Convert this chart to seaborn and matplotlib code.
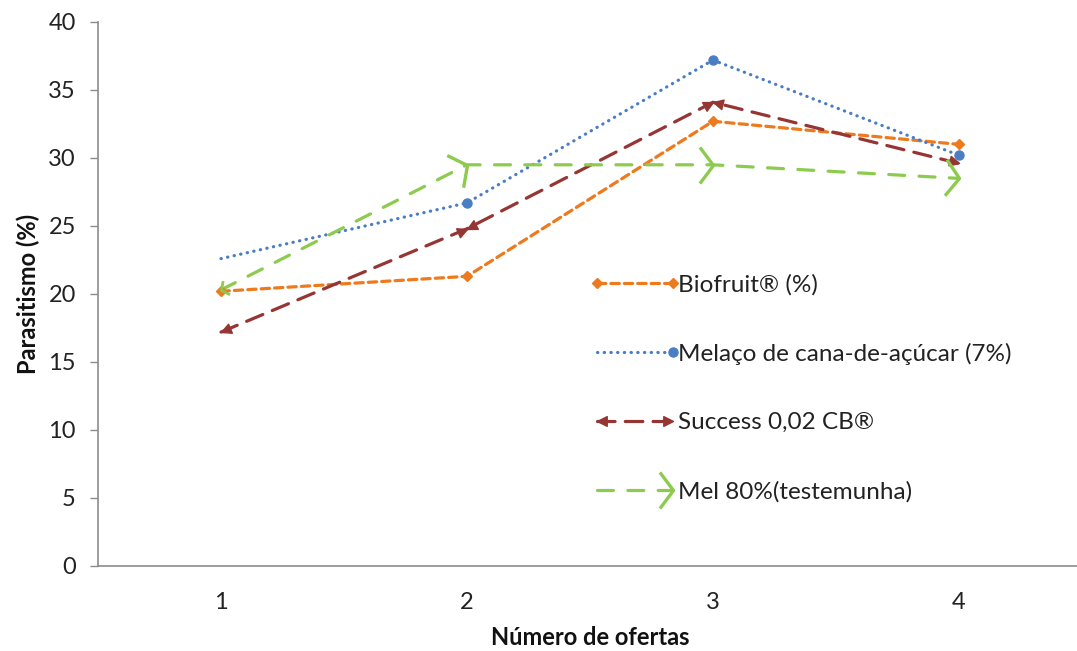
import numpy as np
import pandas as pd
import seaborn as sns
import matplotlib
matplotlib.use("Agg")
import matplotlib.pyplot as plt
from matplotlib.path import Path
from matplotlib.markers import MarkerStyle
from matplotlib.transforms import Affine2D
from matplotlib.lines import Line2D
from matplotlib.legend_handler import HandlerBase

# ---- data ----
ofertas = [1, 2, 3, 4]
biofruit = [20.2, 21.3, 32.7, 31.0]
melaco = [22.6, 26.7, 37.2, 30.2]
success = [17.2, 24.8, 34.1, 29.6]
mel = [20.3, 29.5, 29.5, 28.5]
series_names = ["Biofruit® (%)", "Melaço de cana-de-açúcar (7%)",
                "Success 0,02 CB®", "Mel 80%(testemunha)"]
yticks = [0, 5, 10, 15, 20, 25, 30, 35, 40]

colors = {series_names[0]: "#EE7A1E", series_names[1]: "#4A7EC4",
          series_names[2]: "#963634", series_names[3]: "#8DCB4E"}
dashes = {series_names[0]: (2.6, 1.6), series_names[1]: (0.1, 2.0),
          series_names[2]: (5.5, 3.2), series_names[3]: (5.0, 4.5)}

df = pd.DataFrame({
    "x": ofertas * 4,
    "y": biofruit + melaco + success + mel,
    "serie": sum([[n] * 4 for n in series_names], []),
})

sns.set_theme(style="white")
plt.rcParams["font.family"] = ["Lato", "DejaVu Sans"]

fig = plt.figure(figsize=(10.77, 6.51), dpi=100)
ax = fig.add_axes([98 / 1077, 1 - 566 / 651, 984 / 1077, 544 / 651])

LW = 2.3
sns.lineplot(data=df, x="x", y="y", hue="serie", style="serie",
             palette=colors, dashes=dashes, linewidth=LW, legend=False,
             ax=ax, zorder=3)
for ln in ax.get_lines():
    ln.set_dash_capstyle("round")

ax.set_xlim(0.5, 4.5)
ax.set_ylim(0, 40)
ax.set_xticks(ofertas)
ax.set_yticks(yticks)
ax.tick_params(axis="y", length=6, width=1, color="#8C8C8C", labelsize=17,
               labelcolor="#222222", pad=10, direction="out", left=True)
ax.tick_params(axis="x", length=0, labelsize=17, labelcolor="#222222", pad=19)
for s in ["top", "right"]:
    ax.spines[s].set_visible(False)
for s in ["left", "bottom"]:
    ax.spines[s].set_color("#8C8C8C")
    ax.spines[s].set_linewidth(1.2)
ax.set_xlabel("Número de ofertas", fontsize=17, fontweight="bold",
              color="#111111", labelpad=9)
ax.set_ylabel("Parasitismo (%)", fontsize=17, fontweight="bold",
              color="#111111", labelpad=6)

# ---- arrow-style markers, oriented along segments ----
tri = Path([(0, 0), (-1, 0.5), (-1, -0.5), (0, 0)],
           [Path.MOVETO, Path.LINETO, Path.LINETO, Path.CLOSEPOLY])
chev = Path([(-0.75, 1), (0, 0), (-0.75, -1)],
            [Path.MOVETO, Path.LINETO, Path.LINETO])


def angles_of(ys):
    pts = ax.transData.transform(np.column_stack([ofertas, ys]))
    d = np.diff(pts, axis=0)
    return np.degrees(np.arctan2(d[:, 1], d[:, 0]))


def put(path, x, y, ang, color, size, filled=True, lw=1.0):
    if filled:
        ms = MarkerStyle(path, transform=Affine2D().rotate_deg(ang))
        ax.plot([x], [y], marker=ms, markersize=size, color=color,
                markeredgecolor=color, linestyle="none", zorder=4)
    else:
        ms = MarkerStyle(path, fillstyle="none", transform=Affine2D().rotate_deg(ang))
        ax.plot([x], [y], marker=ms, markersize=size, color=color,
                markerfacecolor="none", markeredgewidth=lw,
                linestyle="none", zorder=4)


# Biofruit: small diamonds
ax.plot(ofertas, biofruit, linestyle="none", marker="D", markersize=5.5,
        color=colors[series_names[0]], zorder=4)
# Melaço: circles at segment ends
ax.plot(ofertas[1:], melaco[1:], linestyle="none", marker="o", markersize=6.5,
        color=colors[series_names[1]], zorder=4)
# Success: triangles at both ends of every segment
a = angles_of(success)
c = colors[series_names[2]]
for i in range(3):
    put(tri, ofertas[i + 1], success[i + 1], a[i], c, 14)
    put(tri, ofertas[i], success[i], a[i] + 180, c, 14)
# Mel: open chevrons at segment ends
a = angles_of(mel)
c = colors[series_names[3]]
for i in range(3):
    put(chev, ofertas[i + 1], mel[i + 1], a[i], c, 26, filled=False, lw=2.4)
put(chev, ofertas[0], mel[0], a[0] + 180, c, 11, filled=False, lw=2.0)


# ---- legend with end markers ----
class EndHandler(HandlerBase):
    def __init__(self, spec):
        super().__init__()
        self.spec = spec

    def create_artists(self, legend, orig_handle, xdescent, ydescent, width,
                       height, fontsize, trans):
        col, dsh, marks = self.spec
        y = height / 2 - ydescent
        x0, x1 = -xdescent, width - xdescent
        line = Line2D([x0, x1], [y, y], color=col, linewidth=LW,
                      dashes=dsh, dash_capstyle="round")
        line.set_transform(trans)
        arts = [line]
        for where, path, ang, size, filled in marks:
            xx = x0 if where == "start" else x1
            if isinstance(path, str):
                m = Line2D([xx], [y], marker=path, markersize=size, color=col,
                           linestyle="none")
            elif filled:
                m = Line2D([xx], [y], marker=MarkerStyle(path, transform=Affine2D().rotate_deg(ang)),
                           markersize=size, color=col, linestyle="none")
            else:
                m = Line2D([xx], [y], marker=MarkerStyle(path, fillstyle="none",
                                                         transform=Affine2D().rotate_deg(ang)),
                           markersize=size, color=col, markerfacecolor="none",
                           markeredgewidth=2.4, linestyle="none")
            m.set_transform(trans)
            arts.append(m)
        return arts


specs = [
    (colors[series_names[0]], dashes[series_names[0]],
     [("start", "D", 0, 5.5, True), ("end", "D", 0, 5.5, True)]),
    (colors[series_names[1]], dashes[series_names[1]],
     [("end", "o", 0, 6.5, True)]),
    (colors[series_names[2]], dashes[series_names[2]],
     [("start", tri, 180, 14, True), ("end", tri, 0, 14, True)]),
    (colors[series_names[3]], dashes[series_names[3]],
     [("end", chev, 0, 26, False)]),
]
handles = [Line2D([], [], color=s[0]) for s in specs]
hmap = {h: EndHandler(s) for h, s in zip(handles, specs)}
leg = ax.legend(handles, series_names, handler_map=hmap, loc="upper left",
                bbox_to_anchor=(0.497, 0.555), frameon=False, fontsize=17.5,
                handlelength=3.15, handletextpad=0.2, labelspacing=1.95,
                borderaxespad=0)
for t in leg.get_texts():
    t.set_color("#222222")

fig.savefig("out.png", dpi=100)
